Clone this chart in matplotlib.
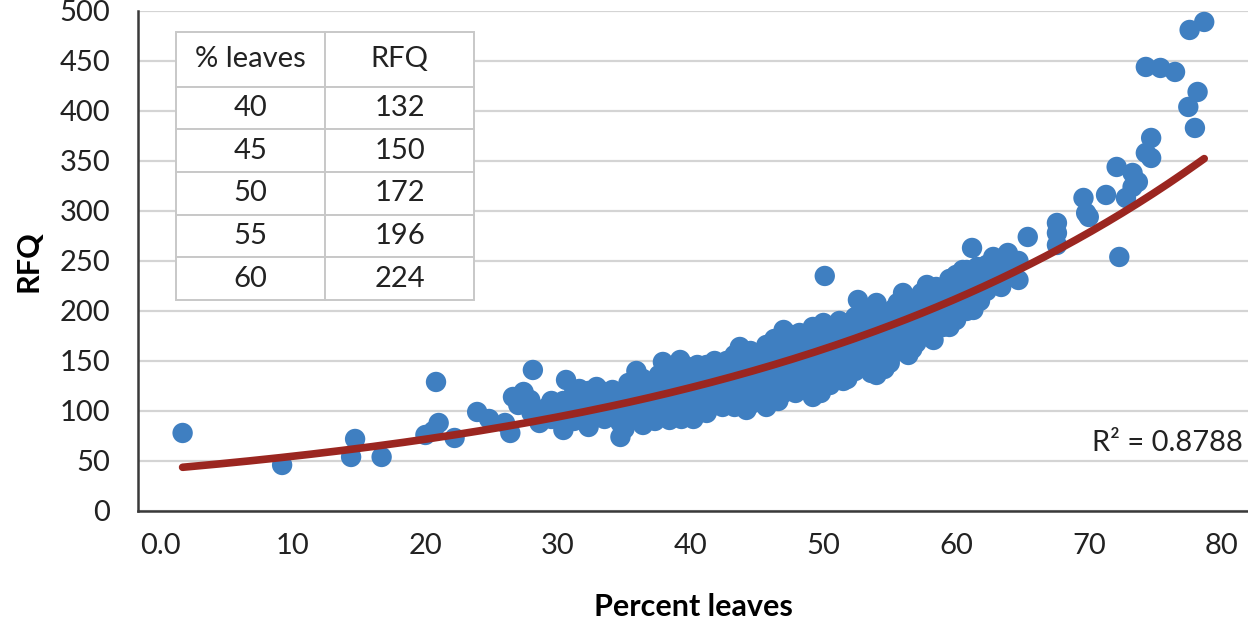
import numpy as np
import matplotlib.pyplot as plt

# =========================
# DATA
# =========================

leaves_pct = [
    1.7, 9.2, 14.7, 14.4, 16.7, 20.0, 20.6, 21.0, 20.8, 22.2, 23.9, 24.8,
    26.0, 26.4, 26.6, 27.0, 27.4, 27.9, 28.1, 28.6, 29.1, 29.8, 28.0, 29.5, 29.5,
    30.4, 30.4, 30.4, 30.6, 30.9, 30.9, 31.2, 31.2, 31.2, 31.6, 31.6,
    31.9, 31.9, 31.9, 32.3, 32.3, 32.3, 32.6, 32.6, 32.9, 32.9, 32.9,
    33.2, 33.2, 33.5, 33.5, 33.5, 34.1, 34.1, 34.1, 34.4, 34.4,
    34.7, 34.7, 34.7, 34.7, 35.0, 35.0, 35.3, 35.3, 35.3, 35.6, 35.6,
    35.9, 35.9, 35.9, 36.2, 36.2, 36.2, 36.4, 36.4, 36.4, 36.8, 36.8,
    37.0, 37.0, 37.0, 37.3, 37.3, 37.3, 37.6, 37.6, 37.6, 37.9,
    38.1, 38.1, 38.1, 38.4, 38.4, 38.4, 38.7, 38.7, 39.0, 39.0, 39.0, 39.2,
    39.3, 39.3, 39.3, 39.6, 39.6, 39.6, 39.9, 39.9, 39.9,
    40.2, 40.2, 40.2, 40.5, 40.5, 40.5, 40.8, 40.8, 40.8, 41.2, 41.2,
    41.5, 41.5, 41.5, 41.8, 41.8, 41.8, 42.1, 42.1, 42.1,
    42.4, 42.4, 42.4, 42.7, 42.7, 42.7, 43.0, 43.0, 43.0,
    43.3, 43.3, 43.3, 43.3, 43.7, 43.7, 43.7, 44.0, 44.0, 44.0,
    44.2, 44.2, 44.2, 44.5, 44.5, 44.5, 44.7, 44.7, 44.7, 45.0, 45.0, 45.0,
    45.3, 45.3, 45.3, 45.7, 45.7, 45.7, 45.9, 45.9, 45.9,
    46.3, 46.3, 46.3, 46.6, 46.6, 46.6, 47.0, 47.0, 47.0, 47.0,
    47.3, 47.3, 47.3, 47.6, 47.6, 47.6, 47.9, 47.9, 47.9,
    48.2, 48.2, 48.2, 48.5, 48.5, 48.5, 48.8, 48.8, 48.8, 49.0, 49.0, 49.0,
    49.2, 49.2, 49.2, 49.2, 49.5, 49.5, 49.5, 49.8, 49.8, 49.8, 50.0, 50.1,
    50.2, 50.2, 50.2, 50.5, 50.5, 50.5, 50.8, 50.8, 50.8,
    51.2, 51.2, 51.2, 51.5, 51.5, 51.5, 51.8, 51.8, 51.8, 52.1, 52.1, 52.1,
    52.4, 52.4, 52.4, 52.6, 52.7, 52.7, 53.0, 53.0, 53.0, 53.3, 53.3, 53.3,
    53.6, 53.6, 53.6, 53.9, 53.9, 53.9, 54.0, 54.0, 54.3, 54.3, 54.3,
    54.6, 54.6, 54.6, 55.0, 55.0, 55.0, 55.3, 55.3, 55.3,
    55.6, 55.6, 55.6, 55.9, 55.9, 56.0, 56.4, 56.4, 56.4, 56.7, 56.7, 56.7,
    57.0, 57.0, 57.0, 57.4, 57.4, 57.4, 57.8, 57.8, 57.8, 58.0, 58.0,
    58.3, 58.3, 58.5, 58.7, 58.7, 59.0, 59.0, 59.0, 59.3, 59.3, 59.5, 59.5,
    60.0, 60.0, 60.0, 60.2, 60.2, 60.5, 60.8, 60.8, 60.8, 61.0, 61.0,
    61.2, 61.3, 61.3, 61.6, 61.6, 61.8, 61.8, 62.3, 62.3, 62.5,
    62.8, 62.8, 63.1, 63.4, 63.4, 63.9, 63.9, 64.7, 64.7,
    65.4, 67.6, 67.6, 67.6, 69.6, 69.8, 70.0, 71.3, 72.1, 72.3, 72.8,
    73.3, 73.3, 73.7, 74.3, 74.3, 74.7, 74.7, 75.4, 76.5, 77.5, 77.6,
    78.0, 78.2, 78.7,
]

rfq = [
    78, 46, 72, 54, 54, 76, 80, 88, 129, 73, 99, 92,
    88, 78, 114, 106, 119, 111, 141, 88, 103, 100, 98, 92, 110,
    81, 96, 110, 131, 96, 108, 90, 118, 105, 111, 122,
    92, 104, 114, 98, 84, 120, 108, 92, 102, 115, 124,
    100, 112, 92, 108, 119, 96, 112, 121, 100, 115,
    74, 88, 104, 118, 82, 118, 94, 110, 128, 104, 116,
    100, 122, 140, 96, 116, 128, 86, 108, 132, 104, 120,
    95, 114, 126, 90, 108, 130, 100, 120, 136, 149,
    98, 116, 140, 91, 108, 130, 104, 124, 98, 118, 140, 151,
    92, 110, 132, 104, 126, 145, 100, 118, 138,
    92, 112, 134, 108, 126, 146, 100, 120, 140, 98, 146,
    104, 118, 138, 108, 128, 150, 114, 132, 144,
    104, 122, 138, 110, 128, 150, 112, 132, 148,
    104, 122, 142, 156, 118, 140, 164, 112, 130, 148,
    101, 126, 152, 118, 140, 160, 108, 134, 158, 112, 128, 154,
    116, 142, 150, 104, 130, 166, 114, 138, 158,
    120, 148, 172, 110, 130, 162, 118, 138, 158, 181,
    132, 148, 170, 126, 152, 176, 118, 140, 166,
    132, 160, 178, 128, 152, 174, 122, 146, 170, 130, 156, 176,
    114, 138, 162, 184, 124, 144, 168, 118, 150, 174, 188, 235,
    134, 158, 178, 126, 160, 182, 138, 152, 172,
    144, 168, 190, 130, 150, 182, 132, 156, 178, 146, 164, 186,
    140, 170, 194, 211, 158, 184, 150, 176, 198, 144, 168, 192,
    138, 162, 188, 156, 176, 198, 136, 208, 152, 180, 200,
    142, 164, 190, 148, 172, 196, 158, 180, 202,
    160, 186, 208, 168, 192, 218, 156, 178, 200, 162, 186, 206,
    168, 192, 212, 178, 198, 218, 176, 200, 226, 186, 210,
    171, 214, 224, 196, 214, 184, 204, 220, 200, 222, 184, 232,
    191, 212, 236, 204, 226, 241, 200, 222, 241, 214, 236,
    263, 201, 230, 224, 244, 210, 238, 220, 246, 234,
    254, 228, 240, 224, 246, 258, 236, 231, 250,
    274, 266, 278, 288, 313, 298, 294, 316, 344, 254, 313,
    338, 324, 329, 358, 444, 353, 373, 443, 439, 404, 481,
    383, 419, 489,
]

table_pct = [40, 45, 50, 55, 60]
table_rfq = [132, 150, 172, 196, 224]

x_ticks = [0, 10, 20, 30, 40, 50, 60, 70, 80]
x_tick_labels = ["0.0", "10", "20", "30", "40", "50", "60", "70", "80"]
y_ticks = [0, 50, 100, 150, 200, 250, 300, 350, 400, 450, 500]

# =========================
# EXPONENTIAL TREND (same as Excel: fit ln(y) vs x)
# =========================

x = np.array(leaves_pct)
y = np.array(rfq)
b, ln_a = np.polyfit(x, np.log(y), 1)
x_fit = np.linspace(x.min(), x.max(), 200)
y_fit = np.exp(ln_a) * np.exp(b * x_fit)

# =========================
# PLOT
# =========================

plt.rcParams['font.family'] = ['Lato', 'DejaVu Sans']

fig = plt.figure(figsize=(12.48, 6.22), dpi=100)
ax = fig.add_axes([0.1106, 0.1785, 0.8894, 0.8039])

ax.scatter(x, y, s=215, color='#3F7FC1', edgecolors='none', zorder=3)
ax.plot(x_fit, y_fit, color='#9B2620', lw=5.5, solid_capstyle='round', zorder=4)

ax.set_xlim(-1.66, 82.0)
ax.set_ylim(0, 500)
ax.set_xticks(x_ticks)
ax.set_xticklabels(x_tick_labels)
ax.set_yticks(y_ticks)
ax.tick_params(axis='both', length=0, labelsize=21, colors='#222222')
ax.tick_params(axis='y', pad=20)
ax.tick_params(axis='x', pad=16)

ax.grid(axis='y', color='#D4D4D4', lw=1.6, zorder=0)
ax.set_axisbelow(True)
for side in ['top', 'right']:
    ax.spines[side].set_visible(False)
for side in ['left', 'bottom']:
    ax.spines[side].set_color('#3A3A3A')
    ax.spines[side].set_linewidth(1.8)

ax.set_ylabel("RFQ", fontsize=22, fontweight='bold', labelpad=12)
ax.set_xlabel("Percent leaves", fontsize=22, fontweight='bold', labelpad=24)

ax.text(81.6, 68, "R² = 0.8788", fontsize=21, ha='right', va='center',
        color='#222222')

# inset table
cells = [[str(p), str(r)] for p, r in zip(table_pct, table_rfq)]
tbl = ax.table(cellText=cells, colLabels=["% leaves", "RFQ"],
               cellLoc='center', bbox=[0.0342, 0.422, 0.2685, 0.536], zorder=5)
tbl.auto_set_font_size(False)
for (r, c), cell in tbl.get_celld().items():
    cell.set_edgecolor('#C8C8C8')
    cell.set_linewidth(1.4)
    cell.set_facecolor('white')
    cell.get_text().set_fontsize(21)
    cell.get_text().set_color('#222222')
    cell.set_height(55 if r == 0 else 43)

fig.savefig("out.png", dpi=100)
